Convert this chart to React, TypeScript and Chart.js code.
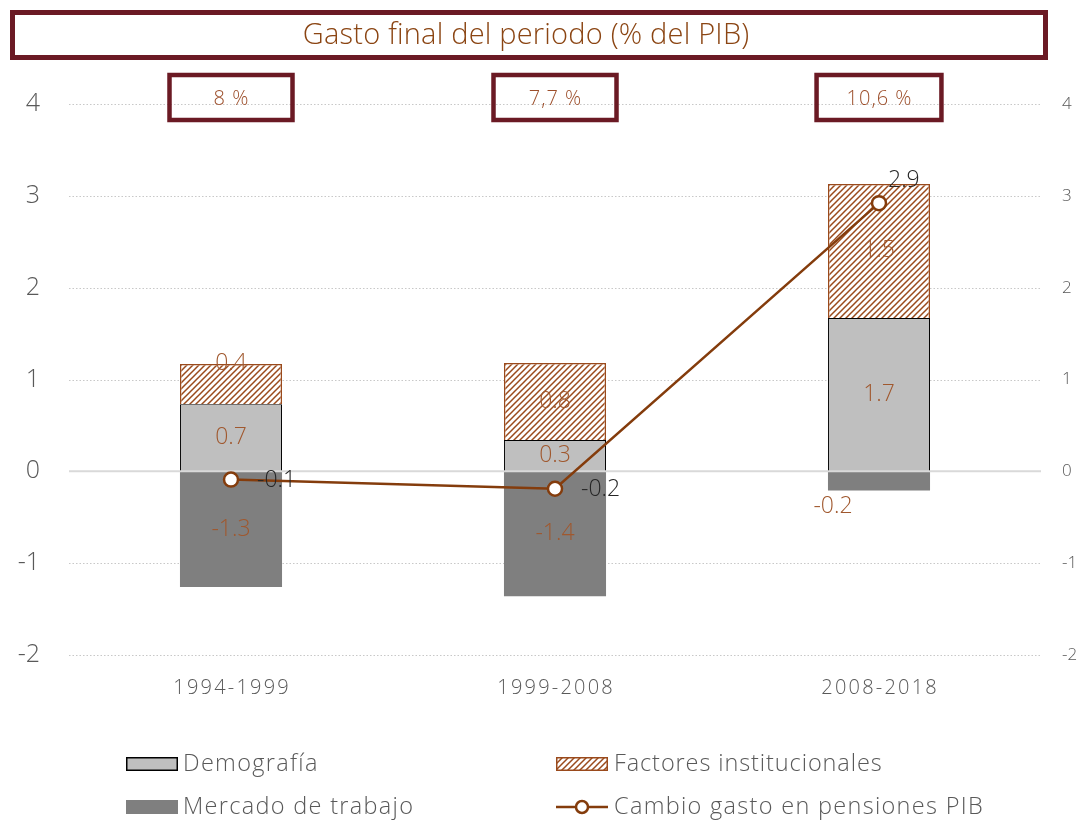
import React, { useEffect, useRef } from 'react';
import { Chart, registerables } from 'chart.js';

Chart.register(...registerables);

const categories = ['1994-1999', '1999-2008', '2008-2018'];
const demografia = [0.73, 0.34, 1.67];
const factores = [0.44, 0.84, 1.46];
const mercado = [-1.26, -1.36, -0.21];
const cambio = [-0.09, -0.19, 2.92];
const totalLabels = ['8 %', '7,7 %', '10,6 %'];
const yTicks = [-2, -1, 0, 1, 2, 3, 4];
const seriesNames = ['Demografía', 'Factores institucionales', 'Mercado de trabajo', 'Cambio gasto en pensiones PIB'];
const titleText = 'Gasto final del periodo (% del PIB)';

const FONT = '"Open Sans", Roboto, sans-serif';
const GREY_TEXT = '#595959';
const LABEL_BROWN = '#A0582E';
const HATCH = '#9A4A1C';
const LINE = '#843C0C';
const MAROON = '#6B1A24';
const LIGHT = '#BFBFBF';
const DARK = '#7F7F7F';

function makeHatch(): CanvasPattern {
  const c = document.createElement('canvas');
  c.width = 6;
  c.height = 6;
  const g = c.getContext('2d')!;
  g.fillStyle = '#ffffff';
  g.fillRect(0, 0, 6, 6);
  g.strokeStyle = HATCH;
  g.lineWidth = 1.5;
  g.beginPath();
  g.moveTo(0, 6); g.lineTo(6, 0);
  g.moveTo(-3, 3); g.lineTo(3, -3);
  g.moveTo(3, 9); g.lineTo(9, 3);
  g.stroke();
  return g.createPattern(c, 'repeat')!;
}

function drawText(
  ctx: any, s: string, x: number, y: number, size: number, color: string,
  align: 'left' | 'center' | 'right', spacing = 0,
) {
  ctx.save();
  ctx.font = `300 ${size}px ${FONT}`;
  ctx.letterSpacing = `${spacing}px`;
  ctx.fillStyle = color;
  ctx.textBaseline = 'middle';
  ctx.textAlign = 'left';
  const w = ctx.measureText(s).width - spacing;
  let x0 = x;
  if (align === 'center') x0 = x - w / 2;
  if (align === 'right') x0 = x - w;
  ctx.fillText(s, x0, y);
  ctx.restore();
}

export default function App() {
  const ref = useRef<HTMLCanvasElement | null>(null);

  useEffect(() => {
    if (!ref.current) return;
    const hatch = makeHatch();

    const overlay = {
      id: 'overlay',
      beforeDatasetsDraw(chart: any) {
        const { ctx, chartArea } = chart;
        const y = chart.scales.y;
        ctx.save();
        ctx.strokeStyle = '#C8C8C8';
        ctx.lineWidth = 1.2;
        ctx.setLineDash([1.5, 2]);
        yTicks.forEach((v) => {
          if (v === 0) return;
          const py = Math.round(y.getPixelForValue(v)) + 0.5;
          ctx.beginPath();
          ctx.moveTo(chartArea.left, py);
          ctx.lineTo(chartArea.right, py);
          ctx.stroke();
        });
        ctx.restore();
      },
      beforeDatasetDraw(chart: any, args: any) {
        if (args.index !== 3) return;
        const { ctx, chartArea } = chart;
        const py = chart.scales.y.getPixelForValue(0);
        ctx.save();
        ctx.strokeStyle = '#D9D9D9';
        ctx.lineWidth = 2;
        ctx.beginPath();
        ctx.moveTo(chartArea.left, py);
        ctx.lineTo(chartArea.right, py);
        ctx.stroke();
        ctx.restore();
      },
      afterDatasetsDraw(chart: any) {
        const { ctx } = chart;
        [0, 1, 2].forEach((di) => {
          const meta = chart.getDatasetMeta(di);
          const vals = chart.data.datasets[di].data as number[];
          meta.data.forEach((el: any, i: number) => {
            let x = el.x;
            let yy = (el.y + el.base) / 2;
            if (di === 1 && i === 0) yy = el.y;
            if (di === 2 && i === 2) { x = el.x - 46; yy = el.y + 16; }
            drawText(ctx, vals[i].toFixed(1), x, yy, 23, LABEL_BROWN, 'center');
          });
        });
        const lm = chart.getDatasetMeta(3);
        lm.data.forEach((pt: any, i: number) => {
          const t = cambio[i].toFixed(1);
          if (i === 2) drawText(ctx, t, pt.x + 9, pt.y - 23, 23, '#262626', 'left');
          else drawText(ctx, t, pt.x + 26, pt.y + 1, 23, '#262626', 'left');
        });
      },
      afterDraw(chart: any) {
        const { ctx } = chart;
        const xs = chart.scales.x;
        const ys = chart.scales.y;
        const { left, right, bottom } = chart.chartArea;
        yTicks.forEach((v) => {
          const py = ys.getPixelForValue(v);
          drawText(ctx, String(v), left - 29, py, 25, GREY_TEXT, 'right');
          drawText(ctx, String(v), right + 21, py, 17, GREY_TEXT, 'left');
        });
        categories.forEach((c, i) => {
          drawText(ctx, c, xs.getPixelForValue(i), bottom + 33, 20, GREY_TEXT, 'center', 2.2);
        });
        ctx.save();
        ctx.strokeStyle = MAROON;
        ctx.lineWidth = 5;
        ctx.strokeRect(12.5, 12.5, 1033, 45);
        ctx.restore();
        drawText(ctx, titleText, 526, 36, 29, '#8B4513', 'center', 0.2);
        totalLabels.forEach((t, i) => {
          const cx = xs.getPixelForValue(i);
          ctx.save();
          ctx.font = `300 21px ${FONT}`;
          const w = Math.max(123, ctx.measureText(t).width + 62);
          ctx.strokeStyle = MAROON;
          ctx.lineWidth = 4.5;
          ctx.strokeRect(cx - w / 2, 75, w, 45);
          ctx.restore();
          drawText(ctx, t, cx, 99, 20, '#9C4E2A', 'center', 1);
        });
        ctx.save();
        const rows = [764, 807];
        const cols = [126, 556];
        ctx.fillStyle = LIGHT;
        ctx.fillRect(cols[0], rows[0] - 7, 52, 14);
        ctx.strokeStyle = '#000';
        ctx.lineWidth = 1.5;
        ctx.strokeRect(cols[0] + 0.75, rows[0] - 6.25, 50.5, 12.5);
        ctx.fillStyle = hatch;
        ctx.fillRect(cols[1], rows[0] - 7, 52, 14);
        ctx.strokeStyle = HATCH;
        ctx.strokeRect(cols[1] + 0.75, rows[0] - 6.25, 50.5, 12.5);
        ctx.fillStyle = DARK;
        ctx.fillRect(cols[0], rows[1] - 7, 52, 14);
        ctx.strokeStyle = LINE;
        ctx.lineWidth = 2.5;
        ctx.beginPath();
        ctx.moveTo(cols[1], rows[1]);
        ctx.lineTo(cols[1] + 52, rows[1]);
        ctx.stroke();
        ctx.beginPath();
        ctx.arc(cols[1] + 26, rows[1], 6, 0, Math.PI * 2);
        ctx.fillStyle = '#fff';
        ctx.fill();
        ctx.stroke();
        ctx.restore();
        drawText(ctx, seriesNames[0], cols[0] + 57, rows[0], 23.5, GREY_TEXT, 'left', 1.3);
        drawText(ctx, seriesNames[1], cols[1] + 58, rows[0], 23.5, GREY_TEXT, 'left', 0.9);
        drawText(ctx, seriesNames[2], cols[0] + 57, rows[1], 23.5, GREY_TEXT, 'left', 1.3);
        drawText(ctx, seriesNames[3], cols[1] + 58, rows[1], 23.5, GREY_TEXT, 'left', 1.3);
      },
    };

    const chart = new Chart(ref.current, {
      type: 'bar',
      data: {
        labels: categories,
        datasets: [
          {
            type: 'bar',
            label: seriesNames[0],
            data: demografia,
            backgroundColor: LIGHT,
            borderColor: '#000',
            borderWidth: 1,
            stack: 'bars',
            order: 1,
            categoryPercentage: 1,
            barPercentage: 0.315,
          },
          {
            type: 'bar',
            label: seriesNames[1],
            data: factores,
            backgroundColor: hatch as any,
            borderColor: HATCH,
            borderWidth: 1.5,
            stack: 'bars',
            order: 1,
            categoryPercentage: 1,
            barPercentage: 0.315,
          },
          {
            type: 'bar',
            label: seriesNames[2],
            data: mercado,
            backgroundColor: DARK,
            borderWidth: 0,
            stack: 'bars',
            order: 1,
            categoryPercentage: 1,
            barPercentage: 0.315,
          },
          {
            type: 'line',
            label: seriesNames[3],
            data: cambio,
            borderColor: LINE,
            borderWidth: 2.5,
            pointRadius: 7,
            pointBackgroundColor: '#fff',
            pointBorderColor: LINE,
            pointBorderWidth: 2.5,
            stack: 'line',
            order: 0,
          } as any,
        ],
      },
      options: {
        responsive: false,
        animation: false,
        layout: { padding: { top: 104, left: 0, right: 0, bottom: 0 } },
        plugins: { legend: { display: false }, tooltip: { enabled: false }, title: { display: false } },
        scales: {
          x: {
            stacked: true,
            grid: { display: false, drawTicks: false },
            border: { display: false },
            ticks: { display: false },
            afterFit: (s: any) => { s.height = 170; },
          },
          y: {
            stacked: true,
            position: 'left',
            min: -2,
            max: 4,
            grid: { display: false, drawTicks: false },
            border: { display: false },
            ticks: { display: false, stepSize: 1 },
            afterFit: (s: any) => { s.width = 69; },
          },
          y2: {
            position: 'right',
            min: -2,
            max: 4,
            grid: { display: false, drawTicks: false },
            border: { display: false },
            ticks: { display: false, stepSize: 1 },
            afterFit: (s: any) => { s.width = 49; },
          },
        },
      },
      plugins: [overlay],
    });
    return () => chart.destroy();
  }, []);

  return (
    <div style={{ position: 'absolute', left: 0, top: 0, width: 1090, height: 825, background: '#fff' }}>
      <canvas ref={ref} width={1090} height={825} />
    </div>
  );
}
